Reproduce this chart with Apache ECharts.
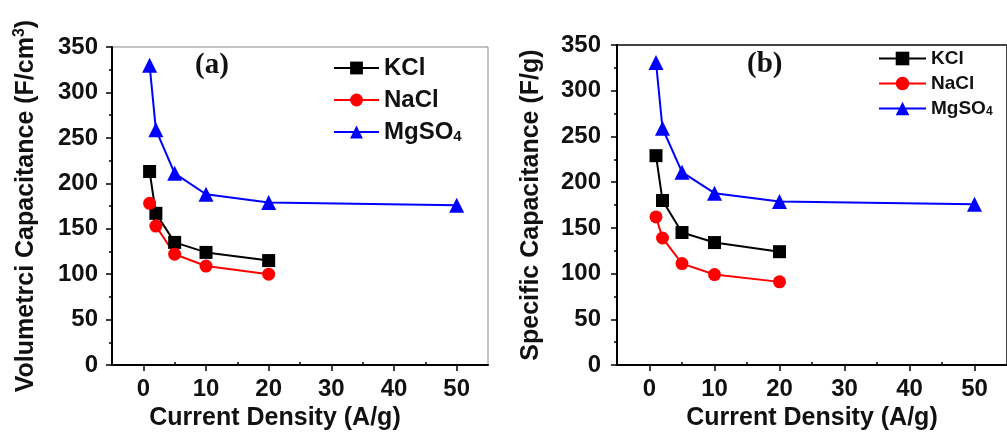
<!DOCTYPE html>
<html>
<head>
<meta charset="utf-8">
<script src="https://cdn.jsdelivr.net/npm/echarts@6/dist/echarts.min.js"></script>
<style>html,body{margin:0;padding:0;background:#fff}#c{width:1007px;height:436px}</style>
</head>
<body>
<div id="c"></div>
<script>
// ---- data ----
const currentSalt = [1, 2, 5, 10, 20];
const currentMg = [1, 2, 5, 10, 20, 50];
const volKCl = [213, 167, 135, 124, 115];
const volNaCl = [178, 153, 122, 109, 100];
const volMgSO4 = [330, 259, 211, 188, 179, 176];
const spKCl = [229, 180, 145, 134, 124];
const spNaCl = [162, 139, 111, 99, 91];
const spMgSO4 = [331, 259, 211, 188, 179, 176];
const xMajorTicks = [0, 10, 20, 30, 40, 50];
const xMinorTicks = [5, 15, 25, 35, 45];
const seriesNames = ['KCl', 'NaCl', 'MgSO4'];

const pairs = (xs, ys) => ys.map((v, i) => [xs[i], v]);
const FONT = 'Liberation Sans';

const chart = echarts.init(document.getElementById('c'), null, {renderer: 'canvas'});

function xAxes(gridIndex, nameGap, namePad) {
  return [{
    type: 'value', gridIndex, min: -5, max: 55,
    axisLine: {show: true, onZero: false, lineStyle: {color: '#000', width: 2}},
    axisTick: {show: true, inside: false, length: 6, lineStyle: {color: '#000', width: 1.5}, customValues: xMajorTicks},
    axisLabel: {customValues: xMajorTicks, color: '#111', fontFamily: FONT, fontWeight: 'bold', fontSize: 24, margin: 12},
    splitLine: {show: false},
    name: 'Current Density (A/g)', nameLocation: 'middle', nameGap,
    nameTextStyle: {color: '#111', fontFamily: FONT, fontWeight: 'bold', fontSize: 25, padding: namePad}
  }, {
    type: 'value', gridIndex, min: -5, max: 55,
    axisLine: {show: false},
    axisTick: {show: true, inside: false, length: 3, lineStyle: {color: '#000', width: 1.5}, customValues: xMinorTicks},
    axisLabel: {show: false},
    splitLine: {show: false}
  }];
}

function yAxis(gridIndex, name, nameGap, margin) {
  return {
    type: 'value', gridIndex, min: 0, max: 350, interval: 50,
    axisLine: {show: true, onZero: false, lineStyle: {color: '#000', width: 2}},
    axisTick: {show: true, inside: false, length: 6, lineStyle: {color: '#000', width: 1.5}},
    minorTick: {show: true, splitNumber: 2, length: 3, lineStyle: {color: '#000', width: 1.5}},
    axisLabel: {color: '#111', fontFamily: FONT, fontWeight: 'bold', fontSize: 24, margin},
    splitLine: {show: false},
    name, nameLocation: 'middle', nameGap,
    nameTextStyle: {color: '#111', fontFamily: FONT, fontWeight: 'bold', fontSize: 25,
      rich: {sup: {fontFamily: FONT, fontWeight: 'bold', fontSize: 16, verticalAlign: 'top', padding: [0, 0, 12, 0]}}}
  };
}

const colors = {KCl: '#000000', NaCl: '#ff0000', MgSO4: '#0000ff'};
const symbols = {KCl: 'rect', NaCl: 'circle', MgSO4: 'triangle'};
const sizes = {KCl: 13, NaCl: 13, MgSO4: 15};

function mkSeries(name, data, xi, yi) {
  return {
    name, type: 'line', xAxisIndex: xi, yAxisIndex: yi, data,
    symbol: symbols[name], symbolSize: sizes[name], showSymbol: true,
    lineStyle: {color: colors[name], width: 2},
    itemStyle: {color: colors[name]},
    z: name === 'MgSO4' ? 3 : 2,
    animation: false
  };
}

function legend(left, top, fontSize, itemGap, itemWidth, itemHeight) {
  return {
    orient: 'vertical', left, top, itemGap, itemWidth, itemHeight,
    padding: 0,
    data: seriesNames,
    formatter: n => n === 'MgSO4' ? 'MgSO{sub|4}' : n,
    textStyle: {color: '#111', fontFamily: FONT, fontWeight: 'bold', fontSize, lineHeight: fontSize,
      rich: {sub: {fontFamily: FONT, fontWeight: 'bold', fontSize: Math.round(fontSize * 0.62), verticalAlign: 'bottom', padding: [Math.round(fontSize*0.45), 0, 0, 0]}}},
    selectedMode: false
  };
}

const option = {
  backgroundColor: '#fff',
  animation: false,
  grid: [
    {left: 112, top: 47, width: 376, height: 319, show: true, borderColor: '#888', borderWidth: 1, containLabel: false},
    {left: 617, top: 45, width: 394, height: 322, show: true, borderColor: '#444', borderWidth: 2, containLabel: false}
  ],
  xAxis: [...xAxes(0, 30, [0, 50, 0, 0]), ...xAxes(1, 40, [0, 0, 0, 0])],
  yAxis: [
    yAxis(0, 'Volumetrci Capacitance (F/cm{sup|3})', 72, 14),
    yAxis(1, 'Specific Capacitance (F/g)', 73, 16)
  ],
  legend: [
    legend(333, 56, 24, 8, 45, 16),
    legend(878, 49, 19, 6, 47, 17)
  ],
  graphic: [
    {type: 'text', left: 195, top: 51, style: {text: '(a)', font: 'bold 29px "Liberation Serif"', fill: '#111'}},
    {type: 'text', left: 747, top: 50, style: {text: '(b)', font: 'bold 29px "Liberation Serif"', fill: '#111'}}
  ],
  series: [
    mkSeries('KCl', pairs(currentSalt, volKCl), 0, 0),
    mkSeries('NaCl', pairs(currentSalt, volNaCl), 0, 0),
    mkSeries('MgSO4', pairs(currentMg, volMgSO4), 0, 0),
    mkSeries('KCl', pairs(currentSalt, spKCl), 2, 1),
    mkSeries('NaCl', pairs(currentSalt, spNaCl), 2, 1),
    mkSeries('MgSO4', pairs(currentMg, spMgSO4), 2, 1)
  ]
};
chart.setOption(option);
</script>
</body>
</html>
